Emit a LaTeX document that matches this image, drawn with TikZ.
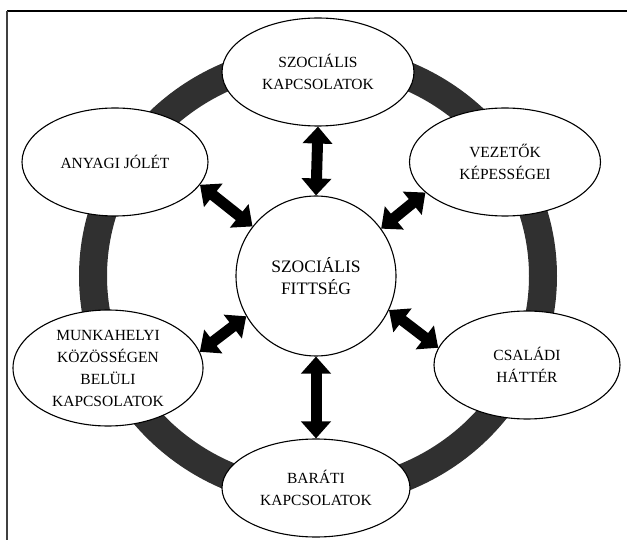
\documentclass[tikz,border=0pt]{standalone}
\usepackage{fontspec}
\setmainfont{Liberation Serif}
\usetikzlibrary{shapes.geometric,arrows.meta}
\definecolor{ringgray}{RGB}{48,48,48}
\tikzset{
  field/.style={ellipse, draw, line width=1.1pt, fill=white, inner sep=0pt, align=center,
    font=\fontsize{15.5}{22}\selectfont},
  core/.style={circle, draw, line width=1.1pt, fill=white, minimum size=160pt, inner sep=0pt,
    align=center, font=\fontsize{17.5}{22}\selectfont},
  twoway/.style={line width=11pt, >={Triangle[length=17pt,width=29pt]}, <->}
}

\begin{document}
\begin{tikzpicture}[x=1pt,y=-1pt]
  \useasboundingbox (0,0) rectangle (627,540);
  % frame
  \draw[line width=1.3pt] (7,11) -- (627,11);
  \draw[line width=2pt, black!75] (7,11) -- (7,540);
  % ring
  \draw[ringgray, line width=28pt] (318,276) ellipse [x radius=225pt, y radius=218pt];

  \node[core] (fit) at (316,276) {SZOCIÁLIS\\FITTSÉG};
  \node[field, minimum width=192pt, minimum height=108pt] (szoc) at (318,72) {SZOCIÁLIS\\KAPCSOLATOK};
  \node[field, minimum width=186pt, minimum height=108pt] (anyagi) at (115,162) {ANYAGI JÓLÉT};
  \node[field, minimum width=191pt, minimum height=108pt] (vez) at (505,162) {VEZETŐK\\KÉPESSÉGEI};
  \node[field, minimum width=190pt, minimum height=116pt] (munka) at (108,368) {MUNKAHELYI\\KÖZÖSSÉGEN\\BELÜLI\\KAPCSOLATOK};
  \node[field, minimum width=186pt, minimum height=108pt] (csal) at (527,365) {CSALÁDI\\HÁTTÉR};
  \node[field, minimum width=188pt, minimum height=98pt] (bar) at (316,488) {BARÁTI\\KAPCSOLATOK};

  \path[twoway]
  (fit.north) edge (szoc.south)
  (fit.south) edge (bar.north)
  (fit.142)   edge (anyagi.-15)
  (fit.36)    edge (vez.201)
  (fit.210)   edge (munka.10)
  (fit.-25)   edge (csal.169);
\end{tikzpicture}
\end{document}
